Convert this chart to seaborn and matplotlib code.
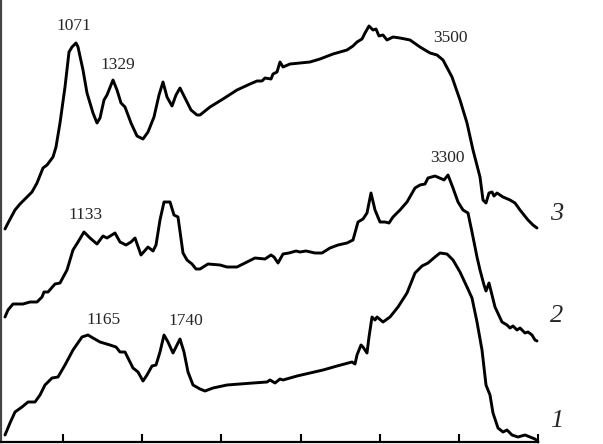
import numpy as np
import pandas as pd
import matplotlib
matplotlib.use('Agg')
import matplotlib.pyplot as plt
import seaborn as sns

# Spectra (x = horizontal position, y = height above the axis)
X3 = [5, 8, 15, 20, 32, 37, 43, 47, 53, 56, 60, 65, 69, 72, 76, 78, 83, 87, 93, 97,
      100, 104, 107, 113, 117, 121, 125, 131, 137, 143, 148, 154, 159, 163, 167, 172,
      176, 180, 185, 191, 197, 200, 210, 223, 237, 250, 257, 262, 265, 271, 273, 277,
      280, 283, 290, 300, 310, 320, 333, 347, 353, 357, 362, 365, 369, 373, 376, 379,
      383, 387, 393, 400, 410, 420, 430, 437, 443, 452, 460, 467, 473, 480, 483, 486,
      489, 492, 494, 497, 503, 510, 515, 520, 528, 533, 537]
Y3 = [229, 223, 210, 204, 192, 183, 168, 165, 157, 147, 123, 87, 52, 47, 43, 47, 70,
      93, 113, 123, 118, 100, 95, 80, 90, 103, 107, 123, 136, 139, 132, 117, 95, 82, 97,
      106, 95, 88, 98, 110, 115, 115, 107, 99, 90, 84, 81, 81, 78, 79, 74, 72, 62, 67,
      64, 63, 62, 59, 54, 50, 46, 42, 39, 33, 26, 30, 29, 36, 35, 40, 37, 38, 40, 47, 53,
      55, 60, 77, 100, 123, 150, 177, 200, 203, 193, 192, 196, 193, 197, 200, 203, 210,
      220, 225, 228]

X2 = [5, 8, 13, 23, 30, 37, 42, 44, 48, 55, 60, 67, 73, 78, 84, 90, 97, 103, 107, 115,
      120, 126, 131, 135, 141, 148, 153, 156, 160, 164, 170, 174, 178, 183, 187, 192,
      196, 200, 208, 220, 227, 237, 247, 255, 265, 271, 274, 278, 283, 289, 296, 300,
      306, 315, 322, 330, 338, 347, 353, 358, 363, 367, 371, 375, 380, 385, 389, 393,
      400, 407, 415, 420, 425, 428, 435, 442, 444, 448, 453, 458, 463, 468, 472, 477,
      480, 484, 486, 489, 492, 495, 502, 507, 510, 513, 517, 520, 525, 528, 532, 535, 537]
Y2 = [317, 310, 304, 304, 302, 302, 297, 292, 292, 284, 283, 270, 250, 242, 232, 238,
      244, 236, 238, 233, 242, 245, 242, 238, 255, 247, 251, 245, 220, 202, 202, 215,
      217, 253, 260, 264, 269, 269, 264, 265, 267, 267, 262, 258, 259, 255, 257, 263,
      254, 253, 251, 252, 251, 253, 253, 248, 245, 243, 240, 222, 219, 213, 193, 210,
      222, 222, 223, 217, 210, 202, 188, 185, 184, 178, 176, 179, 180, 175, 188, 202,
      210, 213, 232, 257, 270, 285, 291, 283, 295, 307, 322, 325, 328, 326, 330, 328,
      333, 332, 335, 340, 341]

X1 = [5, 10, 15, 22, 28, 35, 40, 45, 52, 58, 65, 73, 82, 88, 93, 100, 110, 116, 120,
      125, 130, 133, 138, 143, 147, 152, 156, 160, 164, 168, 173, 180, 184, 188, 193,
      200, 205, 213, 227, 240, 253, 267, 270, 275, 280, 283, 297, 310, 323, 337, 352,
      355, 357, 361, 363, 367, 369, 372, 375, 377, 383, 390, 398, 407, 415, 422, 428,
      435, 440, 447, 453, 460, 467, 472, 477, 482, 486, 490, 493, 498, 503, 507, 512,
      518, 525, 530, 535, 538]
Y1 = [435, 423, 412, 407, 402, 402, 395, 385, 378, 377, 365, 350, 337, 335, 338, 342,
      345, 347, 352, 352, 362, 368, 372, 381, 375, 366, 365, 352, 335, 342, 353, 339,
      352, 372, 385, 389, 391, 388, 385, 384, 383, 382, 380, 383, 379, 380, 376, 373,
      370, 366, 362, 364, 355, 345, 347, 353, 337, 317, 320, 317, 322, 317, 307, 293,
      273, 266, 263, 257, 253, 254, 260, 272, 287, 298, 322, 350, 385, 395, 413, 428,
      432, 430, 435, 437, 435, 437, 439, 442]

CURVE_NAMES = ['1', '2', '3']
PEAK_LABELS = ['1071', '1329', '3500', '1133', '3300', '1165', '1740']
PEAK_X = [74, 118, 450, 86, 447, 104, 186]
PEAK_Y = [26, 65, 38, 215, 158, 320, 321]
TICKS_X = [63, 142, 221, 301, 380, 459, 538]

BASE = 442  # pixel row of the x axis in the reference

frames = []
for name, xs, ys in [('1', X1, Y1), ('2', X2, Y2), ('3', X3, Y3)]:
    frames.append(pd.DataFrame({'x': xs, 'y': BASE - np.array(ys), 'curve': name}))
df = pd.concat(frames, ignore_index=True)

sns.set_style('ticks')
plt.rcParams['font.family'] = ['Liberation Serif', 'DejaVu Serif']

fig = plt.figure(figsize=(6.03, 4.44), dpi=100)
ax = fig.add_axes([1 / 603, 2 / 444, 537 / 603, 442 / 444])

sns.lineplot(data=df, x='x', y='y', units='curve', estimator=None, sort=False,
             color='black', linewidth=2.1, ax=ax)
for line in ax.lines:
    line.set_clip_on(False)
    line.set_solid_joinstyle('round')
    line.set_solid_capstyle('round')

for lab, px, py in zip(PEAK_LABELS, PEAK_X, PEAK_Y):
    ax.text(px, BASE - py, lab, ha='center', va='center', fontsize=12.5)

curve_label_y = {'1': 421, '2': 316, '3': 214}
for name in CURVE_NAMES:
    ax.text(557, BASE - curve_label_y[name], name, ha='center', va='center',
            fontsize=19, style='italic', clip_on=False)

ax.set_xlim(1, 538)
ax.set_ylim(0, 442)
ax.set_xticks(TICKS_X)
ax.set_xticklabels([])
ax.set_yticks([])
ax.tick_params(axis='x', direction='in', length=6, width=1.5, color='black')
ax.set_xlabel('')
ax.set_ylabel('')
ax.spines['top'].set_visible(False)
ax.spines['right'].set_visible(False)
ax.spines['left'].set_color('#444444')
ax.spines['left'].set_linewidth(1.6)
ax.spines['bottom'].set_color('black')
ax.spines['bottom'].set_linewidth(1.6)
legend = ax.get_legend()
if legend is not None:
    legend.remove()

fig.savefig('out.png', dpi=100)
